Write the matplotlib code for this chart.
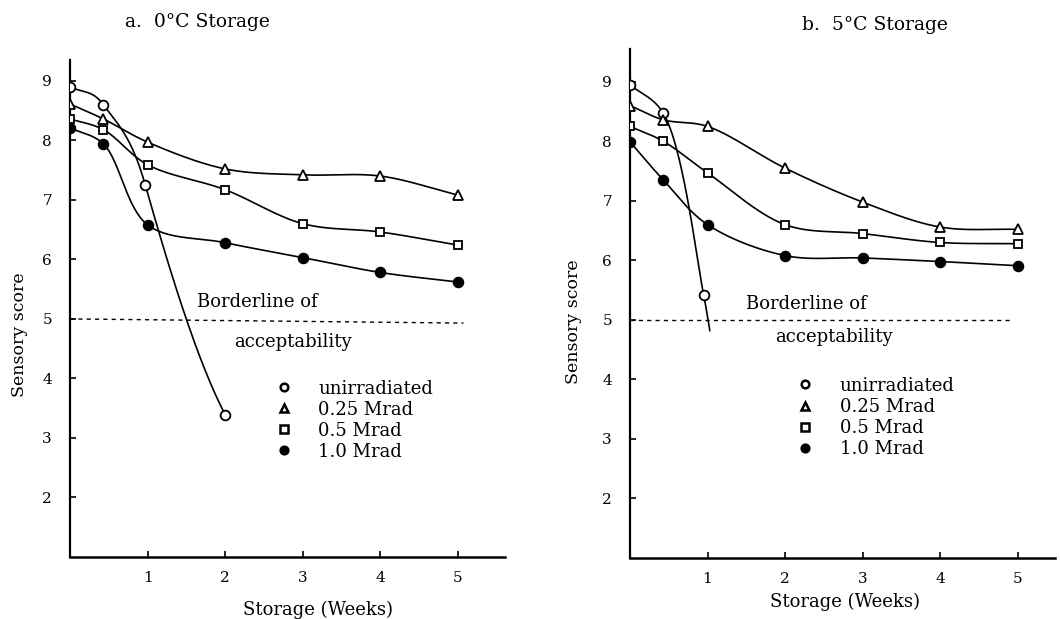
import numpy as np
import matplotlib
matplotlib.use("Agg")
import matplotlib.pyplot as plt
from matplotlib.lines import Line2D

plt.rcParams['font.family'] = ['DejaVu Serif', 'Liberation Serif']

# ---------------- data ----------------
weeks = [0, 0.43, 1, 2, 3, 4, 5]
series_labels = ['unirradiated', '0.25 Mrad', '0.5 Mrad', '1.0 Mrad']

# a. 0 C storage
a_unirr_x = [0, 0.43, 0.97, 2]
a_unirr_y = [8.9, 8.6, 7.25, 3.39]
a_025 = [8.61, 8.36, 7.97, 7.52, 7.42, 7.40, 7.08]
a_05 = [8.36, 8.18, 7.59, 7.17, 6.60, 6.46, 6.24]
a_10 = [8.21, 7.94, 6.58, 6.28, 6.03, 5.78, 5.62]

# b. 5 C storage
b_unirr_x = [0, 0.43, 0.95]
b_unirr_y = [8.95, 8.47, 5.42]
b_unirr_tail_x = [1.03]
b_unirr_tail_y = [4.82]
b_025 = [8.6, 8.36, 8.25, 7.55, 6.98, 6.56, 6.52]
b_05 = [8.25, 8.0, 7.47, 6.6, 6.45, 6.3, 6.28]
b_10 = [7.99, 7.35, 6.6, 6.08, 6.04, 5.98, 5.91]

borderline = 5
x_ticks = [1, 2, 3, 4, 5]
y_ticks = [2, 3, 4, 5, 6, 7, 8, 9]

# curve-shape hint (tangent slopes of the hand-drawn curve, score per week)
a_unirr_slopes = [-0.7, -1.8, -4.6, -2.5]

SX, SY = 77.6, 59.5


def smooth(x, y, n=60):
    """Centripetal Catmull-Rom curve through the points (drawn in pixel-like space)."""
    P = np.column_stack([np.asarray(x, float) * SX, np.asarray(y, float) * SY])
    if len(P) == 2:
        return P[:, 0] / SX, P[:, 1] / SY
    pts = np.vstack([2 * P[0] - P[1], P, 2 * P[-1] - P[-2]])
    out = []
    for i in range(1, len(pts) - 2):
        p0, p1, p2, p3 = pts[i - 1], pts[i], pts[i + 1], pts[i + 2]
        t0 = 0.0
        t1 = t0 + np.linalg.norm(p1 - p0) ** 0.5
        t2 = t1 + np.linalg.norm(p2 - p1) ** 0.5
        t3 = t2 + np.linalg.norm(p3 - p2) ** 0.5
        t = np.linspace(t1, t2, n)[:, None]
        A1 = (t1 - t) / (t1 - t0) * p0 + (t - t0) / (t1 - t0) * p1
        A2 = (t2 - t) / (t2 - t1) * p1 + (t - t1) / (t2 - t1) * p2
        A3 = (t3 - t) / (t3 - t2) * p2 + (t - t2) / (t3 - t2) * p3
        B1 = (t2 - t) / (t2 - t0) * A1 + (t - t0) / (t2 - t0) * A2
        B2 = (t3 - t) / (t3 - t1) * A2 + (t - t1) / (t3 - t1) * A3
        C = (t2 - t) / (t2 - t1) * B1 + (t - t1) / (t2 - t1) * B2
        out.append(C)
    C = np.vstack(out)
    return C[:, 0] / SX, C[:, 1] / SY


def hermite(x, y, m, n=80):
    x = np.asarray(x, float)
    y = np.asarray(y, float)
    m = np.asarray(m, float)
    xs, ys = [], []
    for k in range(len(x) - 1):
        h = x[k + 1] - x[k]
        t = np.linspace(0, 1, n)
        h00 = 2 * t**3 - 3 * t**2 + 1
        h10 = t**3 - 2 * t**2 + t
        h01 = -2 * t**3 + 3 * t**2
        h11 = t**3 - t**2
        xs.append(x[k] + t * h)
        ys.append(h00 * y[k] + h10 * h * m[k] + h01 * y[k + 1] + h11 * h * m[k + 1])
    return np.concatenate(xs), np.concatenate(ys)


W, H = 1060, 619
fig = plt.figure(figsize=(W / 100, H / 100), dpi=100)

ax_a = fig.add_axes([70 / W, (H - 557) / H, 434.6 / W, 497 / H])
ax_b = fig.add_axes([630 / W, (H - 558) / H, 424.7 / W, 509 / H])
ax_a.set_xlim(0, 5.6)
ax_a.set_ylim(1, 9.35)
ax_b.set_xlim(0, 5.48)
ax_b.set_ylim(1, 9.55)

lw = 1.2
mstyles = [
    dict(marker='o', mfc='white', mec='black'),
    dict(marker='^', mfc='white', mec='black'),
    dict(marker='s', mfc='white', mec='black'),
    dict(marker='o', mfc='black', mec='black'),
]
msizes = [7, 6.5, 6, 7]


def draw_series(ax, x, y, k, tail_x=(), tail_y=(), slopes=None):
    if slopes is not None:
        sx, sy = hermite(x, y, slopes)
    else:
        sx, sy = smooth(list(x) + list(tail_x), list(y) + list(tail_y))
    ax.plot(sx, sy, color='black', lw=lw, zorder=2)
    ax.plot(x, y, linestyle='none', ms=msizes[k], mew=1.3, zorder=3, **mstyles[k])


draw_series(ax_a, a_unirr_x, a_unirr_y, 0, slopes=a_unirr_slopes)
draw_series(ax_a, weeks, a_025, 1)
draw_series(ax_a, weeks, a_05, 2)
draw_series(ax_a, weeks, a_10, 3)

draw_series(ax_b, b_unirr_x, b_unirr_y, 0, b_unirr_tail_x, b_unirr_tail_y)
draw_series(ax_b, weeks, b_025, 1)
draw_series(ax_b, weeks, b_05, 2)
draw_series(ax_b, weeks, b_10, 3)

ax_a.plot([0, 5.07], [borderline, borderline - 0.07], color='black', lw=1.0,
          dashes=(3, 3))
ax_b.plot([0, 4.9], [borderline, borderline], color='black', lw=1.0,
          dashes=(3, 3))

for ax in (ax_a, ax_b):
    for s in ('top', 'right'):
        ax.spines[s].set_visible(False)
    ax.spines['left'].set_linewidth(1.6)
    ax.spines['bottom'].set_linewidth(1.8)
    ax.set_xticks(x_ticks)
    ax.set_yticks(y_ticks)
    ax.tick_params(direction='in', length=4, width=1.2, labelsize=11)
    ax.tick_params(axis='y', pad=13)
    ax.tick_params(axis='x', pad=10)
    ax.set_facecolor('none')

ax_a.set_xlabel('Storage (Weeks)', fontsize=13)
ax_a.xaxis.set_label_coords(0.571, -0.089)
ax_a.set_ylabel('Sensory score', fontsize=12.5)
ax_a.yaxis.set_label_coords(-0.097, 0.447)
ax_b.set_xlabel('Storage (Weeks)', fontsize=13)
ax_b.xaxis.set_label_coords(0.506, -0.068)
ax_b.set_ylabel('Sensory score', fontsize=12.5)
ax_b.yaxis.set_label_coords(-0.113, 0.464)

fig.text(197 / W, 1 - 22 / H, 'a.  0°C Storage', ha='center', va='center', fontsize=13.5)
fig.text(875 / W, 1 - 25 / H, 'b.  5°C Storage', ha='center', va='center', fontsize=13.5)

ax_a.text(2.41, 5.29, 'Borderline of', ha='center', va='center', fontsize=13)
ax_a.text(2.87, 4.61, 'acceptability', ha='center', va='center', fontsize=13)
ax_b.text(2.28, 5.27, 'Borderline of', ha='center', va='center', fontsize=13)
ax_b.text(2.63, 4.71, 'acceptability', ha='center', va='center', fontsize=13)

handles = [Line2D([], [], linestyle='none', ms=5.5, mew=1.8, **st) for st in mstyles]
for ax, anchor in ((ax_a, (0.476, 0.357)), (ax_b, (0.396, 0.356))):
    ax.legend(handles, series_labels, loc='upper left', bbox_to_anchor=anchor,
              frameon=False, fontsize=13, handlelength=0.8, handletextpad=1.5,
              labelspacing=0.17, borderpad=0, borderaxespad=0)

fig.savefig('out.png', dpi=100)
